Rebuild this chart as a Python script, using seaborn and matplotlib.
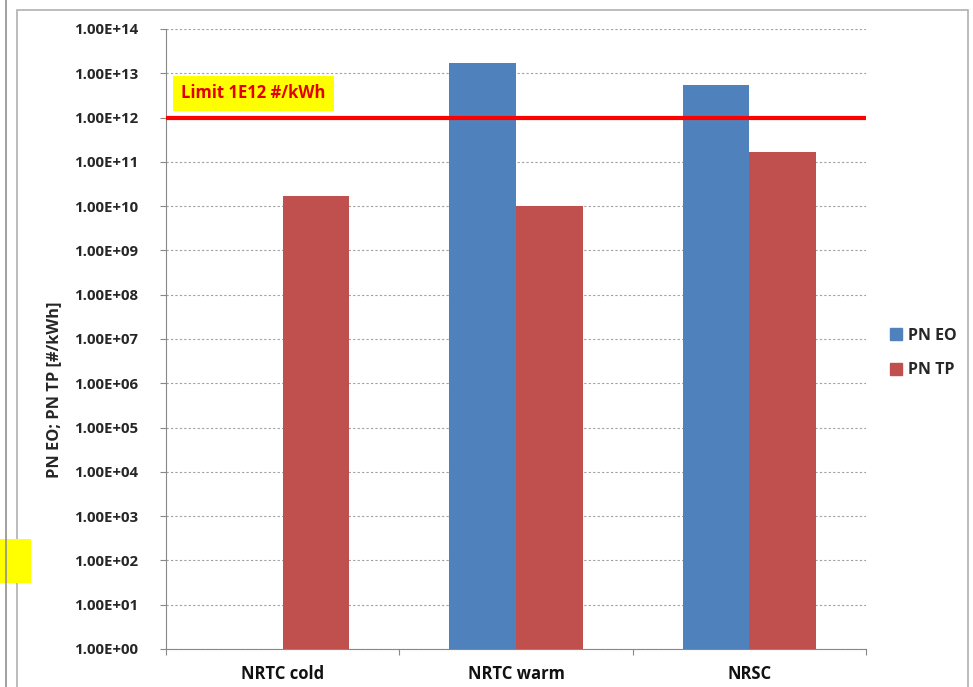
import matplotlib
matplotlib.use("Agg")
import matplotlib.pyplot as plt
import matplotlib.ticker as mticker
from matplotlib.patches import Rectangle
from matplotlib.lines import Line2D
import numpy as np
import pandas as pd
import seaborn as sns

# Particle number results per test cycle
cycles = ["NRTC cold", "NRTC warm", "NRSC"]
pn_eo = [np.nan, 1.7e13, 5.4e12]
pn_tp = [1.7e10, 1.0e10, 1.66e11]
series = ["PN EO", "PN TP"]
limit_value = 1e12
limit_label = "Limit 1E12 #/kWh"
y_label = "PN EO; PN TP [#/kWh]"
y_decades = [10.0 ** k for k in range(0, 15)]

colors = {"PN EO": "#4F81BD", "PN TP": "#C0504D"}

df = pd.DataFrame({
    "cycle": cycles * 2,
    "series": [series[0]] * 3 + [series[1]] * 3,
    "value": pn_eo + pn_tp,
})

sns.set_theme(style="white")
plt.rcParams["font.family"] = ["Open Sans", "DejaVu Sans"]

fig = plt.figure(figsize=(9.73, 6.87), dpi=100)
ax = fig.add_axes([166 / 973, 1 - 649 / 687, 700 / 973, 620 / 687])
ax.set_yscale("log")

sns.barplot(data=df, x="cycle", y="value", hue="series", order=cycles,
            hue_order=series, palette=colors, width=0.571, saturation=1,
            linewidth=0, ax=ax, legend=False, zorder=3)

ax.set_ylim(y_decades[0], y_decades[-1])
ax.set_xlim(-0.5, 2.5)

# decade grid
ax.yaxis.set_major_locator(mticker.FixedLocator(y_decades))
ax.yaxis.set_minor_locator(mticker.NullLocator())
ax.yaxis.set_major_formatter(mticker.FuncFormatter(lambda v, p: f"{v:.2E}"))
ax.grid(axis="y", color="#A0A0A0", linestyle=(0, (2, 2)), linewidth=0.8, zorder=0)
ax.grid(axis="x", visible=False)
ax.set_axisbelow(True)

# category boundaries as x ticks
ax.set_xticks([-0.5, 0.5, 1.5, 2.5])
ax.set_xticklabels([])
ax.tick_params(axis="x", which="major", direction="out", length=4.5, color="#888888", width=0.8, bottom=True)
ax.tick_params(axis="y", which="major", direction="out", length=4.5, color="#888888", width=0.8, left=True,
               labelsize=10.8, pad=15.5)
for lbl in ax.get_yticklabels():
    lbl.set_fontweight("bold")
for i, c in enumerate(cycles):
    ax.text(i, -0.04, c, transform=ax.get_xaxis_transform(), ha="center", va="center",
            fontsize=12, fontweight="bold", color="#111111")

for s in ["top", "right"]:
    ax.spines[s].set_visible(False)
for s in ["left", "bottom"]:
    ax.spines[s].set_color("#888888")
    ax.spines[s].set_linewidth(0.8)

ax.set_xlabel("")
ax.set_ylabel(y_label, fontsize=11.8, fontweight="bold", va="center")
ax.yaxis.set_label_coords(-0.16, 0.418)

# emission limit
ax.axhline(limit_value, color="#FF0000", linewidth=3, zorder=4)
ax.text(0.022, 0.896, limit_label, transform=ax.transAxes, ha="left", va="center",
        fontsize=12, fontweight="bold", color="#E00000", zorder=5,
        bbox=dict(boxstyle="square,pad=0.5", facecolor="#FFFF00", edgecolor="none"))

# legend
handles = [Line2D([], [], marker="s", linestyle="none", markersize=9,
                  markerfacecolor=colors[s], markeredgecolor=colors[s]) for s in series]
fig.legend(handles, series, loc="center left", bbox_to_anchor=(0.898, 1 - 353 / 687),
           frameon=False, prop={"weight": "bold", "size": 11.5}, handletextpad=0.25,
           labelspacing=1.15, handlelength=1.0)

# chart frame and side decorations
fig.patches.append(Rectangle((17 / 973, -0.01), (968 - 17) / 973, 1 - 10 / 687 + 0.01,
                             transform=fig.transFigure, fill=False, edgecolor="#B0B0B0",
                             linewidth=1.2))
fig.lines.append(Line2D([6 / 973, 6 / 973], [0, 1], transform=fig.transFigure,
                        color="#909090", linewidth=1.2))
fig.patches.append(Rectangle((0, 1 - 583 / 687), 31 / 973, 44 / 687,
                             transform=fig.transFigure, facecolor="#FFFF00", edgecolor="none"))

fig.savefig("out.png", dpi=100)
